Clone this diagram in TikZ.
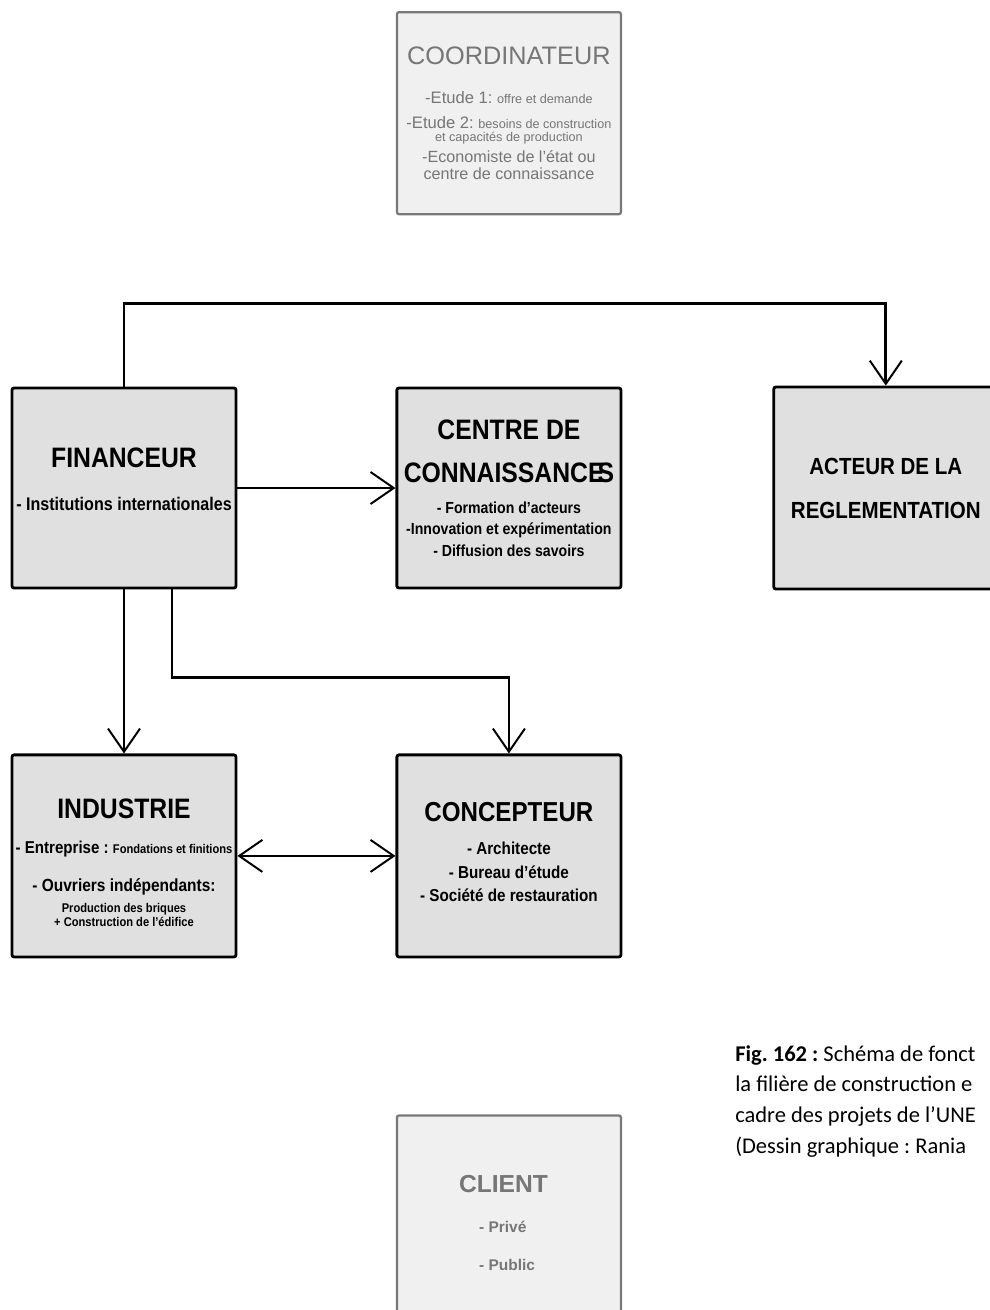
\documentclass[tikz,border=0pt]{standalone}
\usepackage{fontspec}
\setmainfont{Liberation Sans}
\newfontfamily\boxfont{Liberation Sans}[FakeStretch=0.88]
\newfontfamily\capfont{Carlito}
\usetikzlibrary{arrows.meta, positioning, calc}
\definecolor{BoxGray}{RGB}{224,224,224}
\definecolor{PaleGray}{RGB}{240,240,240}
\definecolor{EdgeGray}{RGB}{120,120,120}
\definecolor{TextGray}{RGB}{118,118,118}
\frenchspacing
\newcommand{\setsz}[2]{\fontsize{#1}{#2}\selectfont}
\newcommand{\boxlines}[2][5.55cm]{\begin{minipage}{#1}\centering #2\end{minipage}}
\tikzset{
  box/.style={rectangle, rounded corners=1.5pt, draw=black, line width=2pt,
              fill=BoxGray, minimum width=5.6cm, minimum height=5cm,
              inner xsep=0pt, font=\boxfont\bfseries, text=black},
  greybox/.style={rectangle, rounded corners=1.5pt, draw=EdgeGray, line width=1.6pt,
                  fill=PaleGray, minimum width=5.6cm, minimum height=5.05cm,
                  inner xsep=0pt, font=\rmfamily, text=TextGray},
  arr/.style={-{Straight Barb[length=0.58cm, width=0.8cm, line width=1.4pt]}, line width=2pt},
  arrboth/.style={{Straight Barb[length=0.58cm, width=0.8cm, line width=1.4pt]}-{Straight Barb[length=0.58cm, width=0.8cm, line width=1.4pt]}, line width=2pt},
}
\begin{document}
\begin{tikzpicture}[x=0.025cm, y=-0.025cm]
  \useasboundingbox (0,0) rectangle (989,1310);
  \fill[white] (0,0) rectangle (989,1310);

  % main boxes
  \node[box] (fin) at (124,488)
       {\boxlines{\setsz{20}{24}FINANCEUR\par
        \setsz{13}{30.6}- Institutions internationales\par\vspace*{13pt}}};
  \node[box, right=3.95cm of fin] (centre)
       {\boxlines{\setsz{20}{24}CENTRE DE\par
        \setsz{20}{30.6}CONNAISSANCE\kern-0.25em S\par
        \setsz{11.4}{22}- Formation d’acteurs\par
        \setsz{11.4}{15}-Innovation et expérimentation\par
        \setsz{11.4}{15.6}- Diffusion des savoirs\par}};
  \node[box, right=3.75cm of centre, minimum height=5.05cm] (acteur)
       {\boxlines[5.6cm]{\setsz{16.6}{20}ACTEUR DE LA\par
        \setsz{16.6}{31.3}REGLEMENTATION\par}};
  \node[box, below=4.1cm of fin, minimum height=5.05cm] (indus)
       {\boxlines{\vspace*{10pt}\setsz{20}{24}INDUSTRIE\par
        \setsz{12.2}{25}- Entreprise : {\setsz{9}{25}Fondations et finitions}\par
        \setsz{12.5}{27}- Ouvriers indépendants:\par
        \setsz{9}{15}Production des briques\par
        \setsz{9}{9.8}+ Construction de l’édifice\par}};
  \node[box, below=4.1cm of centre, minimum height=5.05cm] (concep)
       {\boxlines{\setsz{19.5}{24}CONCEPTEUR\par
        \setsz{12.3}{23}- Architecte\par
        \setsz{12.3}{17}- Bureau d’étude\par
        \setsz{12.3}{17}- Société de restauration\par\vspace*{5pt}}};

  % grey boxes
  \node[greybox, above=4.28cm of centre] (coord)
       {\boxlines{\setsz{18}{20}COORDINATEUR\par
        \setsz{11.8}{27.7}-Etude 1: {\setsz{9}{27.7}offre et demande}\par
        \setsz{11.8}{17.8}-Etude 2: {\setsz{9}{17.8}besoins de construction}\par
        \setsz{9}{9.8}et capacités de production\par
        \setsz{11.5}{15}-Economiste de l’état ou\par
        \setsz{11.5}{12}centre de connaissance\par}};
  \node[greybox, below=3.9cm of concep, font=\rmfamily\bfseries] (client)
       {\boxlines{\raggedright\vspace*{9pt}%
        \setsz{17.5}{21}\hspace*{1.53cm}CLIENT\par
        \setsz{11}{28.5}\hspace*{2.03cm}- Privé\par
        \setsz{11}{27}\hspace*{2.03cm}- Public\par}};

  % caption
  \node[anchor=north west, inner sep=0pt, align=left,
        font=\capfont\setsz{16}{21.8}] (legende) at (735,1045)
       {\textbf{Fig. 162 :} Schéma de fonct\\
        la filière de construction e\\
        cadre des projets de l’UNE\\
        (Dessin graphique : Rania};

  % connectors
  \draw[arr] (fin.north) -- ++(0,-83) -| (acteur.north);
  \draw[arr] (fin) -- (centre);
  \draw[arr] (fin) -- (indus);
  \draw[arr] ($(fin.south)+(48,0)$) -- ++(0,88) -| (concep.north);
  \draw[arrboth] (indus) -- (concep);
\end{tikzpicture}
\end{document}
